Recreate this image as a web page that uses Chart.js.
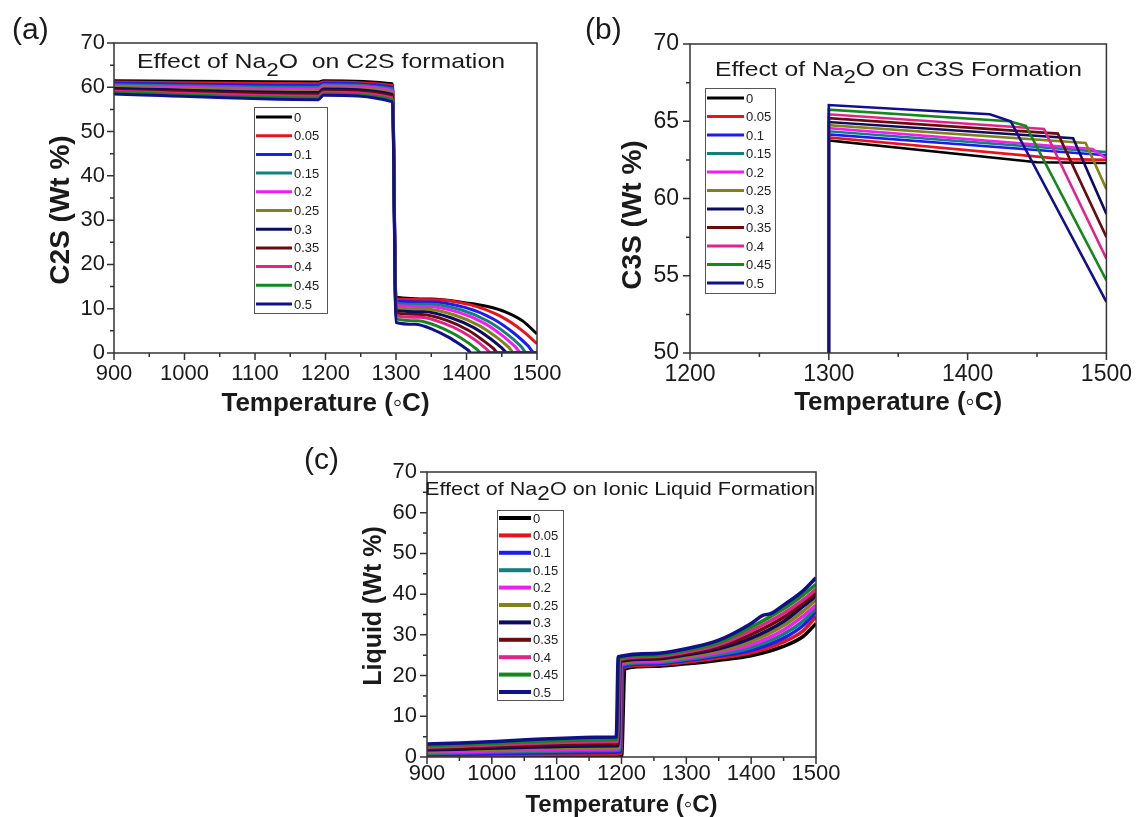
<!DOCTYPE html>
<html>
<head>
<meta charset="utf-8">
<script src="https://cdn.jsdelivr.net/npm/chart.js@4.4.1/dist/chart.umd.min.js"></script>
<style>
  html, body { margin: 0; padding: 0; background: #fff; }
  #wrap { position: relative; width: 1140px; height: 817px; }
  #wrap canvas { position: absolute; left: 0; top: 0; }
</style>
</head>
<body>
<div id="wrap">
  <canvas id="chartA" width="1140" height="817"></canvas>
  <canvas id="chartB" width="1140" height="817"></canvas>
  <canvas id="chartC" width="1140" height="817"></canvas>
</div>
<script>
// Na2O levels (legend) and the line colour of each level
const naLevels = ['0', '0.05', '0.1', '0.15', '0.2', '0.25', '0.3', '0.35', '0.4', '0.45', '0.5'];
const lineColors = ['#000000', '#e8141c', '#1c1cf0', '#138080', '#f01cf0', '#82821a',
                    '#0c0c60', '#6a0c0c', '#e2238c', '#14881c', '#10108c'];

// tick values
const tempTicksWide = [900, 1000, 1100, 1200, 1300, 1400, 1500];
const tempTicksC3S = [1200, 1300, 1400, 1500];
const wtTicks = [0, 10, 20, 30, 40, 50, 60, 70];
const c3sTicks = [50, 55, 60, 65, 70];

// (a) C2S wt% vs temperature, [T, value] per Na2O level
const c2sCurves = [
  [[900,61.5],[1190,61.2],[1197,61.5],[1295,60.8],[1300,12.6],[1350,12.2],[1400,11.3],[1430,10.5],[1455,9.3],[1480,7.2],[1500,4.3]],
  [[900,61.2],[1190,60.8],[1197,61.2],[1295,60.4],[1300,12.2],[1353,12.05],[1406,10.87],[1448,8.31],[1480,4.95],[1500,2.1]],
  [[900,60.9],[1190,60.4],[1197,60.9],[1295,60.0],[1300,11.7],[1349,11.52],[1399,10.24],[1438,7.69],[1467,4.52],[1487,1.67],[1497,0],[1500,0]],
  [[900,60.6],[1190,60.0],[1197,60.6],[1295,59.6],[1300,11.2],[1347,11.0],[1393,9.7],[1430,7.22],[1458,4.21],[1477,1.55],[1486,0],[1500,0]],
  [[900,60.3],[1190,59.6],[1197,60.3],[1295,59.2],[1300,10.7],[1345,10.48],[1389,9.16],[1425,6.76],[1451,3.92],[1469,1.43],[1478,0],[1500,0]],
  [[900,60.0],[1190,59.2],[1197,59.9],[1295,58.8],[1300,10.2],[1342,9.92],[1384,8.52],[1418,6.17],[1443,3.52],[1460,1.28],[1468,0],[1500,0]],
  [[900,59.7],[1190,58.8],[1197,59.6],[1295,58.4],[1300,9.6],[1340,9.3],[1379,7.9],[1411,5.66],[1434,3.21],[1450,1.15],[1458,0],[1500,0]],
  [[900,59.4],[1190,58.4],[1197,59.2],[1295,58.0],[1300,9.0],[1336,8.68],[1373,7.3],[1402,5.18],[1423,2.91],[1438,1.04],[1445,0],[1500,0]],
  [[900,59.1],[1190,58.0],[1197,58.9],[1295,57.6],[1300,8.4],[1334,8.05],[1368,6.69],[1395,4.7],[1415,2.62],[1428,0.93],[1435,0],[1500,0]],
  [[900,58.8],[1190,57.6],[1197,58.5],[1295,57.2],[1300,7.7],[1330,7.28],[1361,5.91],[1385,4.06],[1403,2.23],[1415,0.79],[1421,0],[1500,0]],
  [[900,58.5],[1190,57.2],[1197,58.2],[1295,56.7],[1300,6.9],[1327,6.47],[1354,5.18],[1375,3.52],[1391,1.91],[1402,0.67],[1407,0],[1500,0]]
];

// (b) C3S wt%
const c3sCurves = [
  [[1300,40],[1300,63.75],[1450,62.35],[1500,62.3]],
  [[1300,40],[1300,63.95],[1470,62.55],[1500,62.5]],
  [[1300,40],[1300,64.15],[1500,62.8]],
  [[1300,40],[1300,64.35],[1500,63.0]],
  [[1300,40],[1300,64.55],[1490,63.2],[1500,62.6]],
  [[1300,40],[1300,64.75],[1485,63.6],[1500,60.6]],
  [[1300,40],[1300,64.95],[1476,63.9],[1500,59.0]],
  [[1300,40],[1300,65.2],[1465,64.2],[1500,57.5]],
  [[1300,40],[1300,65.45],[1455,64.5],[1500,56.1]],
  [[1300,40],[1300,65.75],[1430,65.0],[1442,64.7],[1500,54.7]],
  [[1300,40],[1300,66.05],[1416,65.45],[1431,65.0],[1500,53.3]]
];

// (c) liquid wt%
const liquidCurves = [
  [[900,0],[1200,0],[1205,21.7],[1250,22.3],[1300,22.9],[1350,23.8],[1400,24.9],[1450,27.2],[1480,29.6],[1500,32.8]],
  [[900,0.3],[1190,0.8],[1199,0.9],[1202,22.0],[1250,22.6],[1300,23.3],[1350,24.3],[1400,25.6],[1450,28.3],[1480,31.0],[1500,34.5]],
  [[900,0.6],[1190,1.2],[1198,1.3],[1201,22.3],[1250,22.9],[1300,23.7],[1350,24.8],[1400,26.2],[1450,29.2],[1480,32.3],[1500,35.7]],
  [[900,0.9],[1190,1.6],[1197,1.7],[1200,22.6],[1250,23.2],[1300,24.0],[1350,25.2],[1400,26.9],[1450,30.2],[1480,33.4],[1500,36.6]],
  [[900,1.2],[1190,2.0],[1196,2.1],[1199,22.9],[1250,23.5],[1300,24.4],[1350,25.7],[1400,27.6],[1450,31.2],[1480,34.6],[1500,37.3]],
  [[900,1.5],[1190,2.4],[1195,2.5],[1198,23.2],[1250,23.8],[1300,24.7],[1350,26.1],[1400,28.4],[1450,32.3],[1480,35.8],[1500,38.6]],
  [[900,1.8],[1190,2.8],[1195,2.9],[1198,23.5],[1250,24.1],[1300,25.1],[1350,26.6],[1400,29.2],[1450,33.3],[1480,37.0],[1500,39.6]],
  [[900,2.1],[1190,3.3],[1194,3.4],[1197,23.8],[1250,24.4],[1300,25.5],[1350,27.1],[1400,30.1],[1450,34.3],[1480,37.8],[1500,40.3]],
  [[900,2.4],[1190,3.8],[1194,3.9],[1197,24.0],[1250,24.7],[1300,25.8],[1350,27.6],[1400,31.0],[1450,35.3],[1480,38.6],[1500,41.2]],
  [[900,2.8],[1190,4.3],[1193,4.4],[1196,24.3],[1250,25.0],[1300,26.2],[1350,28.1],[1400,31.9],[1450,36.4],[1480,39.8],[1500,42.4]],
  [[900,3.2],[1190,4.9],[1192,5.0],[1195,24.6],[1250,25.4],[1300,26.6],[1350,28.7],[1400,32.8],[1418,34.8],[1430,35.2],[1450,37.3],[1480,40.8],[1500,44.0]]
];

const FONT = '"Liberation Sans", Arial, sans-serif';

// per-panel decoration: labels, titles, legend box
const panelDecor = {
  chartA: {
    tag: '(a)', tagX: 12, tagY: 31,
    yTitle: 'C2S (Wt %)', yTitleX: 61, yTitleY: 210, yTitleSize: 28,
    xTitle: 'Temperature (\u25E6C)', xTitleY: 404, xTitleSize: 26,
    title: [{t: 'Effect of Na', dy: 0, s: 1}, {t: '2', dy: 8, s: 0.9}, {t: 'O  on C2S formation', dy: 0, s: 1}],
    titleX: 137, titleBase: 68, titleW: 368, titleSize: 21,
    legend: {x: 254, y: 107, w: 73, h: 206, row0: 117, gap: 18.7, x1: 256, x2: 292, tx: 294, lw: 3},
    xMinor: 50, xMajor: 100, yMinor: 5, yMajor: 10
  },
  chartB: {
    tag: '(b)', tagX: 585, tagY: 31,
    yTitle: 'C3S (Wt %)', yTitleX: 633, yTitleY: 215, yTitleSize: 28,
    xTitle: 'Temperature (\u25E6C)', xTitleY: 403, xTitleSize: 26,
    title: [{t: 'Effect of Na', dy: 0, s: 1}, {t: '2', dy: 7, s: 0.9}, {t: 'O on C3S Formation', dy: 0, s: 1}],
    titleX: 715, titleBase: 76, titleW: 367, titleSize: 21,
    legend: {x: 705, y: 88, w: 70, h: 205, row0: 98, gap: 18.5, x1: 707, x2: 744, tx: 746, lw: 3},
    xMinor: 50, xMajor: 100, yMinor: 2.5, yMajor: 5
  },
  chartC: {
    tag: '(c)', tagX: 304, tagY: 461,
    yTitle: 'Liquid (Wt %)', yTitleX: 374, yTitleY: 606, yTitleSize: 25,
    xTitle: 'Temperature (\u25E6C)', xTitleY: 805, xTitleSize: 24,
    title: [{t: 'Effect of Na', dy: 0, s: 1}, {t: '2', dy: 5, s: 1.05}, {t: 'O on Ionic Liquid Formation', dy: 0, s: 1}],
    titleX: 425, titleBase: 495, titleW: 390, titleSize: 19,
    legend: {x: 497, y: 510, w: 66, h: 190, row0: 518, gap: 17.4, x1: 499, x2: 531, tx: 533, lw: 4},
    xMinor: 50, xMajor: 100, yMinor: 5, yMajor: 10
  }
};

function isMajor(v, step) {
  return Math.abs(v / step - Math.round(v / step)) < 1e-6;
}

function drawParts(ctx, parts, x, base, width, size) {
  let natural = 0;
  parts.forEach(p => {
    ctx.font = (size * p.s) + 'px ' + FONT;
    natural += ctx.measureText(p.t).width;
  });
  ctx.save();
  ctx.translate(x, base);
  ctx.scale(width / natural, 1);
  let cx = 0;
  parts.forEach(p => {
    ctx.font = (size * p.s) + 'px ' + FONT;
    ctx.fillText(p.t, cx, p.dy);
    cx += ctx.measureText(p.t).width;
  });
  ctx.restore();
}

const decorPlugin = {
  id: 'decor',
  afterDatasetsDraw(chart) {
    const d = panelDecor[chart.canvas.id];
    const {ctx, chartArea: a} = chart;
    const xs = chart.scales.x, ys = chart.scales.y;
    ctx.save();
    ctx.strokeStyle = '#333';
    ctx.lineWidth = 1.5;
    ctx.strokeRect(a.left, a.top, a.right - a.left, a.bottom - a.top);
    ctx.beginPath();
    for (let v = xs.min; v <= xs.max + 1e-6; v += d.xMinor) {
      const px = xs.getPixelForValue(v);
      ctx.moveTo(px, a.bottom);
      ctx.lineTo(px, a.bottom + (isMajor(v, d.xMajor) ? 7 : 4));
    }
    for (let v = ys.min; v <= ys.max + 1e-6; v += d.yMinor) {
      const py = ys.getPixelForValue(v);
      ctx.moveTo(a.left, py);
      ctx.lineTo(a.left - (isMajor(v, d.yMajor) ? 7 : 4), py);
    }
    ctx.stroke();
    ctx.restore();
  },
  afterDraw(chart) {
    const d = panelDecor[chart.canvas.id];
    const {ctx, chartArea: a} = chart;
    ctx.save();
    ctx.fillStyle = '#1a1a1a';
    ctx.textBaseline = 'middle';

    // panel tag
    ctx.textAlign = 'left';
    ctx.font = '30px ' + FONT;
    ctx.fillText(d.tag, d.tagX, d.tagY);

    // axis titles
    ctx.textAlign = 'center';
    ctx.font = 'bold ' + d.xTitleSize + 'px ' + FONT;
    ctx.fillText(d.xTitle, (a.left + a.right) / 2, d.xTitleY);
    ctx.save();
    ctx.translate(d.yTitleX, d.yTitleY);
    ctx.rotate(-Math.PI / 2);
    ctx.font = 'bold ' + d.yTitleSize + 'px ' + FONT;
    ctx.fillText(d.yTitle, 0, 0);
    ctx.restore();

    // in-plot title
    ctx.textAlign = 'left';
    ctx.textBaseline = 'alphabetic';
    drawParts(ctx, d.title, d.titleX, d.titleBase, d.titleW, d.titleSize);

    // legend box
    const L = d.legend;
    ctx.fillStyle = '#fff';
    ctx.fillRect(L.x, L.y, L.w, L.h);
    ctx.strokeStyle = '#555';
    ctx.lineWidth = 1;
    ctx.strokeRect(L.x + 0.5, L.y + 0.5, L.w, L.h);
    ctx.font = '13px ' + FONT;
    ctx.textBaseline = 'middle';
    chart.data.datasets.forEach((ds, i) => {
      const yy = L.row0 + i * L.gap;
      ctx.strokeStyle = ds.borderColor;
      ctx.lineWidth = L.lw;
      ctx.beginPath();
      ctx.moveTo(L.x1, yy);
      ctx.lineTo(L.x2, yy);
      ctx.stroke();
      ctx.fillStyle = '#222';
      ctx.fillText(ds.label, L.tx, yy + 1);
    });
    ctx.restore();
  }
};

function makePanel(id, curves, cfg) {
  const datasets = curves.map((pts, i) => ({
    label: naLevels[i],
    data: pts.map(p => ({x: p[0], y: p[1]})),
    borderColor: lineColors[i],
    backgroundColor: lineColors[i],
    borderWidth: cfg.lineWidth,
    pointRadius: 0,
    fill: false,
    tension: 0,
    cubicInterpolationMode: cfg.smooth ? 'monotone' : 'default',
    order: curves.length - 1 - i
  }));

  const tickFont = {family: FONT, size: cfg.tickSize};

  new Chart(document.getElementById(id), {
    type: 'line',
    data: {datasets: datasets},
    options: {
      responsive: false,
      maintainAspectRatio: false,
      devicePixelRatio: 1,
      animation: false,
      events: [],
      layout: {padding: cfg.padding},
      plugins: {legend: {display: false}, tooltip: {enabled: false}},
      scales: {
        x: {
          type: 'linear',
          min: cfg.xMin, max: cfg.xMax,
          afterBuildTicks: s => { s.ticks = cfg.xTicks.map(v => ({value: v})); },
          afterFit: s => { s.height = 40; },
          grid: {display: false, drawTicks: false},
          border: {display: false},
          ticks: {font: tickFont, color: '#1a1a1a', padding: cfg.xPad, maxRotation: 0, autoSkip: false,
                  callback: v => String(v)}
        },
        y: {
          type: 'linear',
          min: cfg.yMin, max: cfg.yMax,
          afterBuildTicks: s => { s.ticks = cfg.yTicks.map(v => ({value: v})); },
          afterFit: s => { s.width = 40; },
          grid: {display: false, drawTicks: false},
          border: {display: false},
          ticks: {font: tickFont, color: '#1a1a1a', padding: cfg.yPad, autoSkip: false,
                  callback: v => String(v)}
        }
      }
    },
    plugins: [decorPlugin]
  });
}

makePanel('chartA', c2sCurves, {
  xMin: 900, xMax: 1500, yMin: 0, yMax: 70,
  xTicks: tempTicksWide, yTicks: wtTicks,
  padding: {left: 74, right: 603, top: 43, bottom: 424},
  lineWidth: 3, smooth: true, tickSize: 22, xPad: 8, yPad: 9
});

makePanel('chartB', c3sCurves, {
  xMin: 1200, xMax: 1500, yMin: 50, yMax: 70,
  xTicks: tempTicksC3S, yTicks: c3sTicks,
  padding: {left: 650, right: 31, top: 44, bottom: 424},
  lineWidth: 2.6, smooth: false, tickSize: 23, xPad: 8, yPad: 11
});

makePanel('chartC', liquidCurves, {
  xMin: 900, xMax: 1500, yMin: 0, yMax: 70,
  xTicks: tempTicksWide, yTicks: wtTicks,
  padding: {left: 387, right: 324, top: 472, bottom: 20},
  lineWidth: 3.6, smooth: true, tickSize: 22, xPad: 4, yPad: 10
});
</script>
</body>
</html>
